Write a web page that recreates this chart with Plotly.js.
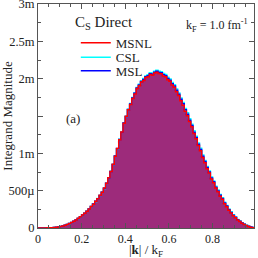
<!DOCTYPE html>
<html><head><meta charset="utf-8">
<script src="https://cdn.plot.ly/plotly-3.0.1.min.js"></script>
<style>html,body{margin:0;padding:0;background:#fff}#chart{width:258px;height:258px}</style>
</head><body><div id="chart"></div>
<script>
// bin left edges (|k|/kF)
const binEdges = [0,0.01,0.02,0.03,0.04,0.05,0.06,0.07,0.08,0.09,
0.10,0.11,0.12,0.13,0.14,0.15,0.16,0.17,0.18,0.19,
0.20,0.21,0.22,0.23,0.24,0.25,0.26,0.27,0.28,0.29,
0.30,0.31,0.32,0.33,0.34,0.35,0.36,0.37,0.38,0.39,
0.40,0.41,0.42,0.43,0.44,0.45,0.46,0.47,0.48,0.49,
0.50,0.51,0.52,0.53,0.54,0.55,0.56,0.57,0.58,0.59,
0.60,0.61,0.62,0.63,0.64,0.65,0.66,0.67,0.68,0.69,
0.70,0.71,0.72,0.73,0.74,0.75,0.76,0.77,0.78,0.79,
0.80,0.81,0.82,0.83,0.84,0.85,0.86,0.87,0.88,0.89,
0.90,0.91,0.92,0.93,0.94,0.95,0.96,0.97,0.98,0.99];

// values in units of 1e-3 (m)
const msnl = [0,0,0.0005,0.001,0.002,0.003,0.005,0.008,0.011,0.015,
0.021,0.027,0.036,0.046,0.060,0.074,0.091,0.107,0.129,0.149,
0.173,0.197,0.226,0.254,0.289,0.319,0.358,0.392,0.437,0.478,
0.535,0.598,0.672,0.757,0.853,0.962,1.065,1.182,1.285,1.402,
1.495,1.585,1.655,1.735,1.795,1.868,1.905,1.955,1.975,2.015,
2.025,2.055,2.045,2.075,2.085,2.070,2.065,2.035,2.025,1.985,
1.965,1.915,1.885,1.825,1.775,1.705,1.645,1.565,1.505,1.425,
1.355,1.265,1.195,1.105,1.035,0.945,0.875,0.795,0.735,0.655,
0.605,0.535,0.485,0.425,0.385,0.325,0.285,0.238,0.202,0.163,
0.137,0.106,0.086,0.063,0.048,0.032,0.021,0.011,0.005,0.001];

const csl = [0,0,0.0005,0.001,0.002,0.003,0.005,0.008,0.011,0.016,
0.021,0.028,0.036,0.047,0.060,0.075,0.090,0.108,0.128,0.151,
0.172,0.199,0.225,0.256,0.287,0.322,0.356,0.395,0.434,0.482,
0.530,0.601,0.668,0.760,0.850,0.965,1.062,1.188,1.282,1.408,
1.492,1.592,1.668,1.748,1.812,1.882,1.925,1.972,2.002,2.035,
2.052,2.078,2.072,2.098,2.112,2.098,2.092,2.068,2.055,2.018,
1.995,1.948,1.918,1.862,1.808,1.742,1.682,1.602,1.542,1.462,
1.388,1.302,1.228,1.138,1.068,0.978,0.905,0.825,0.762,0.682,
0.630,0.558,0.508,0.448,0.405,0.345,0.302,0.255,0.216,0.176,
0.148,0.115,0.094,0.069,0.053,0.036,0.023,0.013,0.006,0.0015];

const msl = [0,0,0.0005,0.001,0.002,0.003,0.005,0.008,0.011,0.015,
0.021,0.027,0.036,0.047,0.059,0.075,0.091,0.108,0.128,0.150,
0.173,0.198,0.226,0.255,0.288,0.321,0.357,0.393,0.436,0.480,
0.533,0.600,0.670,0.758,0.852,0.963,1.064,1.185,1.284,1.405,
1.494,1.588,1.662,1.742,1.805,1.876,1.915,1.963,1.988,2.025,
2.038,2.066,2.058,2.086,2.098,2.084,2.078,2.052,2.040,2.002,
1.980,1.932,1.902,1.845,1.792,1.725,1.664,1.585,1.524,1.444,
1.372,1.284,1.212,1.122,1.052,0.962,0.890,0.810,0.749,0.668,
0.618,0.547,0.497,0.437,0.395,0.335,0.294,0.246,0.209,0.170,
0.143,0.111,0.090,0.066,0.051,0.034,0.022,0.012,0.0055,0.001];

const xTickVals = [0,0.2,0.4,0.6,0.8];
const xTickText = ['0','0.2','0.4','0.6','0.8'];
const yTickVals = [0,0.5,1,1.5,2,2.5,3];
const yTickText = ['0','500µ','1m','','2m','2.5m','3m'];

const serif = '"Times New Roman", "Liberation Serif", Times, serif';
const axisColor = '#555';
const txt = '#222';

const traces = [
  {x: binEdges, y: msnl, type:'scatter', mode:'lines', line:{shape:'hv', width:0},
   fill:'tozeroy', fillcolor:'#9d2b7b', showlegend:false, hoverinfo:'skip'},
  {x: binEdges, y: csl, type:'scatter', mode:'lines', name:'CSL', legend:'legend2',
   line:{shape:'hv', color:'#00ffff', width:1.5}},
  {x: binEdges, y: msl, type:'scatter', mode:'lines', name:'MSL', legend:'legend3',
   line:{shape:'hv', color:'#0000ff', width:1.5}},
  {x: binEdges, y: msnl, type:'scatter', mode:'lines', name:'MSNL', legend:'legend',
   line:{shape:'hv', color:'#ff0000', width:1.5}}
];

function leg(y){
  return {x:0.175, y:y, xanchor:'left', yanchor:'middle', bgcolor:'rgba(0,0,0,0)',
    font:{family:serif, size:13, color:txt}, itemwidth:30};
}

const layout = {
  width:258, height:258,
  margin:{l:38, r:4, t:4, b:30},
  paper_bgcolor:'#fff', plot_bgcolor:'#fff',
  font:{family:serif, size:12, color:txt},
  showlegend:true,
  legend:leg(0.827),
  legend2:leg(0.762),
  legend3:leg(0.702),
  xaxis:{range:[0,0.99], tickmode:'array', tickvals:xTickVals, ticktext:xTickText,
    ticks:'inside', ticklen:5, tickcolor:axisColor, mirror:'allticks', showline:true,
    linecolor:axisColor, linewidth:1, showgrid:false, zeroline:false,
    tickfont:{family:serif, size:12, color:txt}, ticklabeloverflow:'allow',
    minor:{tickmode:'linear', tick0:0, dtick:0.05, ticks:'inside', ticklen:3, tickcolor:axisColor, showgrid:false}},
  yaxis:{range:[0,3], tickmode:'array', tickvals:yTickVals, ticktext:yTickText,
    ticks:'inside', ticklen:5, tickcolor:axisColor, mirror:'allticks', showline:true,
    linecolor:axisColor, linewidth:1, showgrid:false, zeroline:false,
    tickfont:{family:serif, size:12.5, color:txt}, ticklabeloverflow:'allow',
    minor:{tickmode:'linear', tick0:0, dtick:0.25, ticks:'inside', ticklen:3, tickcolor:axisColor, showgrid:false},
    title:{text:'Integrand Magnitude', font:{family:serif, size:13, color:txt}, standoff:1}},
  annotations:[
    {xref:'paper', yref:'paper', x:0.5, y:0, yshift:-22, xanchor:'center', yanchor:'middle', showarrow:false,
     text:'|<b>k</b>| / k<sub>F</sub>', font:{family:serif, size:13, color:txt}},
    {xref:'paper', yref:'paper', x:0.16, y:0.915, xanchor:'left', yanchor:'middle', showarrow:false,
     text:'C<sub>S</sub> Direct', font:{family:serif, size:15, color:txt}},
    {xref:'paper', yref:'paper', x:0.98, y:0.905, xanchor:'right', yanchor:'middle', showarrow:false,
     text:'k<sub>F</sub> = 1.0 fm<sup>-1</sup>', font:{family:serif, size:12, color:txt}},
    {xref:'paper', yref:'paper', x:0.12, y:0.49, xanchor:'left', yanchor:'middle', showarrow:false,
     text:'(a)', font:{family:serif, size:13, color:txt}}
  ]
};

Plotly.newPlot('chart', traces, layout, {staticPlot:true, displayModeBar:false});
</script></body></html>
